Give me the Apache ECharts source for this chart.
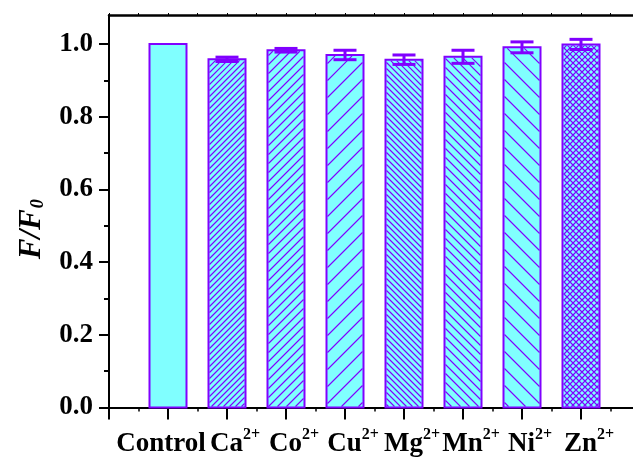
<!DOCTYPE html>
<html><head><meta charset="utf-8">
<script src="https://cdn.jsdelivr.net/npm/echarts@6/dist/echarts.min.js"></script>
<style>html,body{margin:0;padding:0;background:#fff}#c{width:633px;height:460px}</style>
</head><body><div id="c"></div>
<script>
// ---- data ----
const categories = ['Control', 'Ca', 'Co', 'Cu', 'Mg', 'Mn', 'Ni', 'Zn'];
const charges    = ['', '2+', '2+', '2+', '2+', '2+', '2+', '2+'];
const positions  = [1, 2, 3, 4, 5, 6, 7, 8];
const values     = [1.000, 0.958, 0.983, 0.970, 0.957, 0.965, 0.991, 0.999];
const errors     = [0, 0.006, 0.005, 0.013, 0.013, 0.018, 0.015, 0.014];
const yTickValues = [0, 0.2, 0.4, 0.6, 0.8, 1.0];

// ---- style ----
const FONT = '"Liberation Serif", "Times New Roman", serif';
const CYAN = '#80ffff';
const PURPLE = '#8000ff';
const hatchKinds = [['none', 0], ['fwd', 6], ['fwd', 9], ['fwd', 17], ['back', 6], ['back', 9], ['back', 17], ['cross', 6]];
const BAR_W = 37 / 59;
const CAP_W = 23 / 59;

function hatchPath(kind, s, L, R, T, B) {
  let d = '';
  if (kind === 'fwd' || kind === 'cross') {
    for (let c = Math.ceil((L + T) / s) * s; c <= R + B; c += s) {
      const xa = Math.max(L, c - B), xb = Math.min(R, c - T);
      if (xb - xa > 0.3) d += 'M' + xa.toFixed(2) + ' ' + (c - xa).toFixed(2) + 'L' + xb.toFixed(2) + ' ' + (c - xb).toFixed(2);
    }
  }
  if (kind === 'back' || kind === 'cross') {
    for (let c = Math.ceil((T - R) / s) * s; c <= B - L; c += s) {
      const xa = Math.max(L, T - c), xb = Math.min(R, B - c);
      if (xb - xa > 0.3) d += 'M' + xa.toFixed(2) + ' ' + (xa + c).toFixed(2) + 'L' + xb.toFixed(2) + ' ' + (xb + c).toFixed(2);
    }
  }
  return d;
}

const seriesData = positions.map((p, i) => [p, values[i], errors[i]]);

function xLabel(v) {
  const i = positions.indexOf(Math.round(v));
  if (i < 0 || Math.abs(v - positions[i]) > 1e-6) return '';
  if (!charges[i]) return '{c|' + categories[i] + '}';
  return '{n|' + categories[i] + '}{s|' + charges[i] + '}';
}

const chart = echarts.init(document.getElementById('c'), null, { renderer: 'canvas' });
chart.setOption({
  animation: false,
  backgroundColor: '#fff',
  grid: { left: 109, top: 15, width: 531, height: 392.5, outerBoundsMode: 'none', containLabel: false },
  xAxis: [{
    type: 'value', min: 0, max: 9, interval: 1, position: 'bottom',
    axisLine: { show: true, onZero: false, lineStyle: { color: '#000', width: 2 } },
    axisTick: { show: true, inside: false, length: 12, lineStyle: { color: '#000', width: 2 } },
    minorTick: { show: true, splitNumber: 2, length: 4, lineStyle: { color: '#000', width: 1.5 } },
    splitLine: { show: false }, minorSplitLine: { show: false },
    axisLabel: {
      show: true, margin: 19, formatter: xLabel, showMinLabel: true, showMaxLabel: true, hideOverlap: false,
      rich: {
        c: { fontFamily: FONT, fontSize: 27, fontWeight: 'bold', color: '#000', lineHeight: 31, verticalAlign: 'bottom', padding: [5, 14, 0, 0] },
        n: { fontFamily: FONT, fontSize: 27, fontWeight: 'bold', color: '#000', lineHeight: 31, verticalAlign: 'bottom', padding: [5, 0, 0, 16] },
        s: { fontFamily: FONT, fontSize: 16, fontWeight: 'bold', color: '#000', lineHeight: 16, verticalAlign: 'top' }
      }
    }
  }, {
    type: 'value', min: 0, max: 9, interval: 0.5, position: 'top',
    axisLine: { show: true, onZero: false, lineStyle: { color: '#000', width: 2.5 } },
    axisTick: { show: true, inside: false, length: 2, lineStyle: { color: '#000', width: 1 } },
    axisLabel: { show: false }, splitLine: { show: false }
  }],
  yAxis: {
    type: 'value', min: 0, max: 1.08, interval: 0.2,
    axisLine: { show: true, onZero: false, lineStyle: { color: '#000', width: 2 } },
    axisTick: { show: true, inside: false, length: 10, customValues: yTickValues, lineStyle: { color: '#000', width: 2 } },
    minorTick: { show: true, splitNumber: 2, length: 5, lineStyle: { color: '#000', width: 2 } },
    splitLine: { show: false }, minorSplitLine: { show: false },
    axisLabel: {
      customValues: yTickValues, formatter: v => v.toFixed(1), margin: 16,
      fontFamily: FONT, fontSize: 27, fontWeight: 'bold', color: '#000'
    },
    name: '{f|F/F}{z|0}', nameLocation: 'middle', nameGap: 62, nameRotate: 90,
    nameTextStyle: {
      padding: [0, 36, 0, 0],
      rich: {
        f: { fontFamily: FONT, fontSize: 31, fontWeight: 'bold', fontStyle: 'italic', color: '#000', lineHeight: 31, verticalAlign: 'top' },
        z: { fontFamily: FONT, fontSize: 18, fontWeight: 'bold', fontStyle: 'italic', color: '#000', lineHeight: 18, verticalAlign: 'bottom', padding: [22, 0, 0, 1] }
      }
    }
  },
  series: [{
    type: 'custom',
    xAxisIndex: 0, yAxisIndex: 0,
    data: seriesData,
    clip: false,
    renderItem: function (params, api) {
      const i = params.dataIndex;
      const x = api.value(0), y = api.value(1), e = api.value(2);
      const p0 = api.coord([x, 0]);
      const p1 = api.coord([x, y]);
      const w = api.size([BAR_W, 0])[0];
      const L = p0[0] - w / 2, R = p0[0] + w / 2, T = p1[1], B = p0[1];
      const children = [{
        type: 'rect',
        shape: { x: L, y: T, width: R - L, height: B - T },
        style: { fill: CYAN, stroke: null }
      }];
      const hk = hatchKinds[i];
      if (hk[0] !== 'none') {
        children.push({
          type: 'path',
          shape: { pathData: hatchPath(hk[0], hk[1], L + 1, R - 1, T + 1, B - 1) },
          style: { fill: null, stroke: PURPLE, lineWidth: 1.1 }
        });
      }
      children.push({
        type: 'rect',
        shape: { x: L, y: T, width: R - L, height: B - T },
        style: { fill: null, stroke: PURPLE, lineWidth: 2 }
      });
      if (e > 0) {
        const pt = api.coord([x, y + e]);
        const pb = api.coord([x, y - e]);
        const cw = api.size([CAP_W, 0])[0];
        const ls = { stroke: PURPLE, lineWidth: 3 };
        children.push({ type: 'line', shape: { x1: pt[0], y1: pt[1], x2: pb[0], y2: pb[1] }, style: ls });
        children.push({ type: 'line', shape: { x1: pt[0] - cw / 2, y1: pt[1], x2: pt[0] + cw / 2, y2: pt[1] }, style: ls });
        children.push({ type: 'line', shape: { x1: pb[0] - cw / 2, y1: pb[1], x2: pb[0] + cw / 2, y2: pb[1] }, style: ls });
      }
      return { type: 'group', children: children };
    }
  }]
});
</script>
</body></html>
